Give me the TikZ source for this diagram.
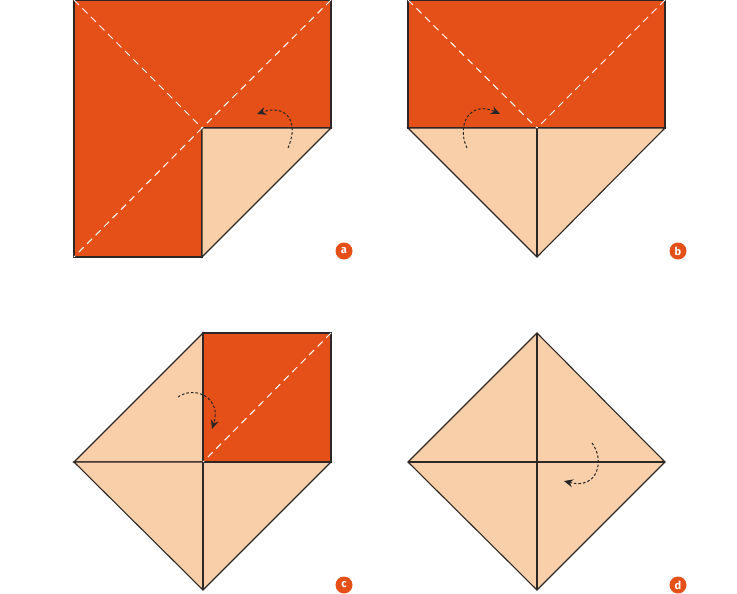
\documentclass[tikz,border=0pt]{standalone}
\usepackage{fontspec}
\setsansfont{Fira Sans}
\usetikzlibrary{arrows.meta}
\definecolor{fold}{RGB}{229,80,25}
\definecolor{peach}{RGB}{248,207,168}
\definecolor{edge}{RGB}{45,40,38}
\tikzset{
  paper/.style={draw=edge,line width=1.1pt,line join=miter},
  orange/.style={paper,fill=fold},
  light/.style={paper,fill=peach},
  crease/.style={draw=white,line width=1pt,dash pattern=on 7pt off 5pt},
  move/.style={draw=black!85,line width=1pt,dash pattern=on 2.6pt off 2pt,-{Stealth[length=9pt,width=8pt]}},
  tag/.style={circle,fill=fold,text=white,inner sep=0pt,minimum size=17pt,font=\sffamily\bfseries\fontsize{11}{11}\selectfont}
}
\begin{document}
\begin{tikzpicture}[x=1pt,y=-1pt]
\useasboundingbox (0,0) rectangle (737,594);
% ---- panel a
\path[orange] (74,0) -- (331,0) -- (331,128) -- (202,128) -- (202,257) -- (74,257) -- cycle;
\path[light] (202,128) -- (331,128) -- (202,257) -- cycle;
\path[crease] (74,0) -- (202,128);
\path[crease] (331,0) -- (202,128);
\path[crease] (202,128) -- (74,257);
\draw[move] (288,148) .. controls (300,120) and (285,104) .. (257,114);
\node[tag] (ta) at (344,251) {a};
% ---- panel b
\path[orange] (408,0) rectangle (665,128);
\path[light] (408,128) -- (665,128) -- (537,257) -- cycle;
\draw[paper] (537,128) -- (537,257);
\path[crease] (408,0) -- (537,128);
\path[crease] (665,0) -- (537,128);
\draw[move] (467,148) .. controls (456,125) and (470,100) .. (500,114);
\node[tag] (tb) at (678,251) {b};
% ---- panel c
\path[light] (74,462) -- (203,333) -- (203,462) -- cycle;
\path[light] (74,462) -- (331,462) -- (203,590) -- cycle;
\path[orange] (203,333) rectangle (331,462);
\draw[paper] (203,462) -- (203,590);
\path[crease] (331,333) -- (203,462);
\draw[move] (178,397) .. controls (195,385) and (222,398) .. (212,429);
\node[tag] (tc) at (344,585) {c};
% ---- panel d
\path[light] (408,462) -- (537,333) -- (665,462) -- (537,590) -- cycle;
\draw[paper] (408,462) -- (665,462);
\draw[paper] (537,333) -- (537,590);
\draw[move] (592,443) .. controls (605,460) and (598,490) .. (564,481);
\node[tag] (td) at (678,585) {d};
\end{tikzpicture}
\end{document}
